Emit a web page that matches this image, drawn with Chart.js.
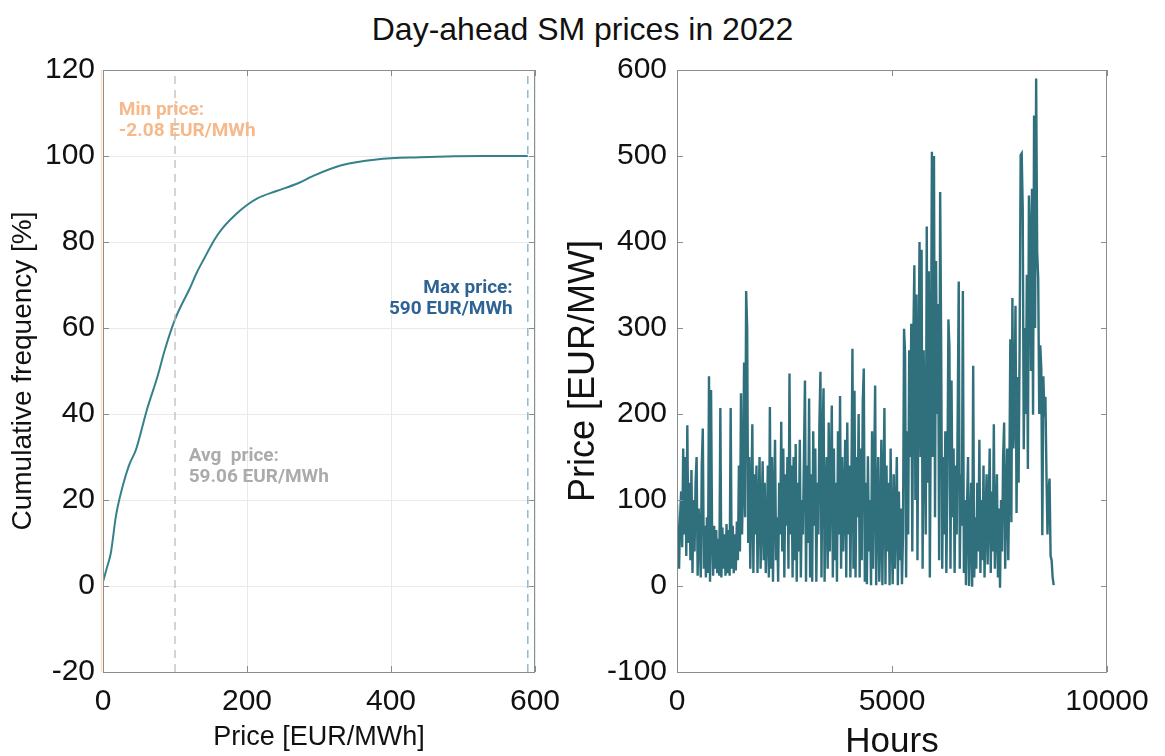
<!DOCTYPE html>
<html>
<head>
<meta charset="utf-8">
<script src="https://cdn.jsdelivr.net/npm/chart.js@4.4.1/dist/chart.umd.min.js"></script>
<style>
  body { margin: 0; background: #fff; width: 1165px; height: 756px; overflow: hidden; position: relative; }
  #titulo { position: absolute; left: 0; width: 1165px; top: 10px; text-align: center;
            font: 32px "Liberation Sans", Arial, sans-serif; line-height: 38px; color: #111; }
  #cdf { position: absolute; left: 0; top: 0; }
  #serie { position: absolute; left: 560px; top: 0; }
</style>
</head>
<body>
<div id="titulo">Day-ahead SM prices in 2022</div>
<canvas id="cdf" width="560" height="756"></canvas>
<canvas id="serie" width="605" height="770"></canvas>
<script>
/* =========================
   DADOS
========================= */
// curva acumulada (preco EUR/MWh -> %)
const cdfPrice = [-2.08, 0, 5, 11, 18, 27, 36, 46, 61, 76, 86, 100, 110, 120, 130, 140, 155, 165, 185, 200, 215, 240, 270, 295, 330, 380, 440, 530, 590];
const cdfPct = [0, 1, 4, 7.8, 16.3, 23, 28, 31.8, 41, 48.9, 55, 62, 65.7, 69, 72.8, 76, 80.6, 83, 86.5, 88.6, 90.2, 91.8, 93.6, 95.6, 97.8, 99.2, 99.7, 100, 100];

// linhas de referencia (min, media, max)
const minPrice = -2.08;
const avgLineX = 100;
const maxPrice = 590;

// serie horaria amostrada por dia
const stepHours = 24;
const prices = [
  95, 40, 20, 80, 110, 45, 160, 60, 150, 35,
  187, 50, 120, 30, 135, 15, 100, 40, 120, 150,
  12, 90, 60, 10, 140, 183, 20, 70, 10, 80,
  15, 244, 5, 228, 60, 12, 70, 20, 65, 15,
  55, 12, 207, 10, 68, 20, 60, 12, 72, 15,
  65, 12, 207, 20, 70, 15, 60, 18, 75, 30,
  140, 40, 224, 60, 120, 260, 80, 343, 299, 50,
  150, 20, 100, 188, 15, 130, 60, 140, 15, 90,
  150, 20, 80, 145, 30, 120, 15, 60, 140, 10,
  208, 20, 150, 5, 100, 170, 30, 80, 5, 120,
  60, 191, 40, 160, 10, 130, 70, 150, 20, 247,
  60, 140, 10, 150, 30, 165, 5, 120, 40, 170,
  10, 100, 60, 150, 239, 5, 140, 50, 218, 10,
  130, 5, 180, 70, 160, 5, 120, 60, 190, 249,
  10, 170, 230, 5, 100, 150, 20, 190, 40, 130,
  210, 10, 160, 30, 120, 5, 180, 60, 221, 20,
  150, 40, 100, 170, 10, 190, 60, 140, 10, 120,
  276, 20, 227, 10, 150, 80, 200, 10, 160, 30,
  214, 253, 5, 120, 2, 151, 40, 100, 1, 180,
  20, 130, 233, 1, 90, 150, 5, 60, 170, 1,
  110, 207, 2, 140, 40, 120, 1, 160, 60, 2,
  130, 20, 80, 150, 1, 110, 30, 90, 2, 60,
  299, 270, 10, 180, 60, 274, 150, 305, 40, 289,
  373, 100, 339, 30, 250, 400, 150, 391, 20, 274,
  180, 60, 418, 120, 366, 10, 220, 505, 150, 500,
  80, 378, 200, 328, 30, 458, 274, 20, 150, 60,
  180, 15, 120, 310, 277, 20, 239, 80, 160, 15,
  140, 60, 200, 354, 20, 130, 70, 343, 15, 100,
  1, 90, 150, 0, 60, 120, -1, 256, 10, 80,
  20, 120, 40, 170, 15, 100, 30, 140, 10, 80,
  130, 25, 90, 160, 15, 110, 40, 188, 20, 70,
  130, 10, 90, -2, 100, 40, 150, 190, 20, 100,
  160, 30, 120, 287, 74, 335, 160, 200, 326, 85,
  243, 120, 280, 501, 503, 439, 159, 300, 200, 362,
  136, 454, 407, 250, 462, 199, 547, 300, 590, 389,
  358, 200, 280, 253, 59, 244, 197, 220, 130, 60,
  110, 125, 35, 30, 10, 1
];

// textos dos rotulos
const notas = [
  { linhas: ["Min price:", "-2.08 EUR/MWh"], x: 22, y: 110.6, cor: "#f6b98b", align: "left" },
  { linhas: ["Max price:", "590 EUR/MWh"], x: 569, y: 69.3, cor: "#2f6394", align: "right" },
  { linhas: ["Avg  price:", "59.06 EUR/MWh"], x: 119, y: 30.2, cor: "#ababab", align: "left" }
];

const fonteEixo = "'Liberation Sans', Arial, sans-serif";

/* =========================
   PLUGINS
========================= */
// moldura com ticks para dentro (estilo matlab)
const molduraPlugin = {
  id: "moldura",
  afterDraw(chart) {
    const { ctx, chartArea: a, scales } = chart;
    const len = 6;
    ctx.save();
    ctx.strokeStyle = "#8c8c8c";
    ctx.lineWidth = 1;
    ctx.strokeRect(a.left + 0.5, a.top + 0.5, a.right - a.left - 1, a.bottom - a.top);
    ctx.beginPath();
    scales.x.ticks.forEach(t => {
      const px = Math.round(scales.x.getPixelForValue(t.value)) + 0.5;
      ctx.moveTo(px, a.bottom); ctx.lineTo(px, a.bottom - len);
      ctx.moveTo(px, a.top); ctx.lineTo(px, a.top + len);
    });
    scales.y.ticks.forEach(t => {
      const py = Math.round(scales.y.getPixelForValue(t.value)) + 0.5;
      ctx.moveTo(a.left, py); ctx.lineTo(a.left + len, py);
      ctx.moveTo(a.right, py); ctx.lineTo(a.right - len, py);
    });
    ctx.stroke();
    ctx.restore();
  }
};

const notasPlugin = {
  id: "notas",
  afterDatasetsDraw(chart) {
    const { ctx, scales } = chart;
    ctx.save();
    ctx.font = "bold 19px Roboto, 'Noto Sans', sans-serif";
    ctx.textBaseline = "middle";
    notas.forEach(n => {
      const px = scales.x.getPixelForValue(n.x);
      const py = scales.y.getPixelForValue(n.y);
      ctx.fillStyle = n.cor;
      ctx.textAlign = n.align;
      n.linhas.forEach((l, i) => ctx.fillText(l, px, py + i * 21));
    });
    ctx.restore();
  }
};

function linhaVertical(x, y0, y1, cor, dash, largura) {
  return {
    data: [{ x: x, y: y0 }, { x: x, y: y1 }],
    borderColor: cor, borderWidth: largura, borderDash: dash,
    pointRadius: 0, clip: false
  };
}

const semMilhar = v => String(v);

// tira o espaco extra que o chart.js reserva para o ultimo rotulo
function ajustaX(alturaTotal) {
  return s => {
    s.height = alturaTotal - 672;
    s.paddingLeft = 0;
    s.paddingRight = 0;
  };
}

/* =========================
   GRAFICO 1 - ACUMULADA
========================= */
new Chart(document.getElementById("cdf"), {
  type: "line",
  data: {
    datasets: [
      linhaVertical(minPrice, -20, 120, "#fbe0c8", [], 1.5),
      linhaVertical(minPrice, -20, 120, "#555555", [6, 5], 1),
      linhaVertical(avgLineX, -20, 120, "#bdbdbd", [8, 6], 1.3),
      linhaVertical(maxPrice, -20, 120, "#8dbcd3", [8, 6], 1.5),
      {
        data: cdfPrice.map((p, i) => ({ x: p, y: cdfPct[i] })),
        borderColor: "#35818a", borderWidth: 2, pointRadius: 0, cubicInterpolationMode: "monotone"
      }
    ]
  },
  options: {
    responsive: false, animation: false,
    layout: { padding: { left: 0, top: 70, right: 25, bottom: 0 } },
    plugins: { legend: { display: false }, tooltip: { enabled: false } },
    scales: {
      x: {
        type: "linear", min: 0, max: 600,
        ticks: { stepSize: 200, color: "#111", padding: 12, font: { family: fonteEixo, size: 30 }, maxRotation: 0, callback: semMilhar },
        grid: { color: "#e9e9e9", drawTicks: false },
        border: { display: false },
        title: { display: true, text: "Price [EUR/MWh]", color: "#111", font: { family: fonteEixo, size: 27 }, padding: { top: 0, bottom: 2 } },
        afterFit: ajustaX(756)
      },
      y: {
        min: -20, max: 120,
        ticks: { stepSize: 20, color: "#111", padding: 8, font: { family: fonteEixo, size: 30 }, callback: semMilhar },
        grid: { color: "#e9e9e9", drawTicks: false },
        border: { display: false },
        title: { display: true, text: "Cumulative frequency [%]", color: "#111", font: { family: fonteEixo, size: 28 }, padding: { top: 6, bottom: 0 } },
        afterFit(s) { s.width = 103; }
      }
    }
  },
  plugins: [molduraPlugin, notasPlugin]
});

/* =========================
   GRAFICO 2 - SERIE HORARIA
========================= */
new Chart(document.getElementById("serie"), {
  type: "line",
  data: {
    datasets: [{
      data: prices.map((v, i) => ({ x: i * stepHours, y: v })),
      borderColor: "#306f7c", borderWidth: 2.4, pointRadius: 0, tension: 0
    }]
  },
  options: {
    responsive: false, animation: false,
    layout: { padding: { left: 0, top: 70, right: 58, bottom: 0 } },
    plugins: { legend: { display: false }, tooltip: { enabled: false } },
    scales: {
      x: {
        type: "linear", min: 0, max: 10000,
        ticks: { stepSize: 5000, color: "#111", padding: 12, font: { family: fonteEixo, size: 30 }, maxRotation: 0, callback: semMilhar },
        grid: { display: false, drawTicks: false },
        border: { display: false },
        title: { display: true, text: "Hours", color: "#111", font: { family: fonteEixo, size: 35, lineHeight: 1 }, padding: { top: 0, bottom: 10 } },
        afterFit: ajustaX(770)
      },
      y: {
        min: -100, max: 600,
        ticks: { stepSize: 100, color: "#111", padding: 10, font: { family: fonteEixo, size: 30 }, callback: semMilhar },
        grid: { display: false, drawTicks: false },
        border: { display: false },
        title: { display: true, text: "Price [EUR/MW]", color: "#111", font: { family: fonteEixo, size: 36 }, padding: { top: 2, bottom: 0 } },
        afterFit(s) { s.width = 117; }
      }
    }
  },
  plugins: [molduraPlugin]
});
</script>
</body>
</html>
